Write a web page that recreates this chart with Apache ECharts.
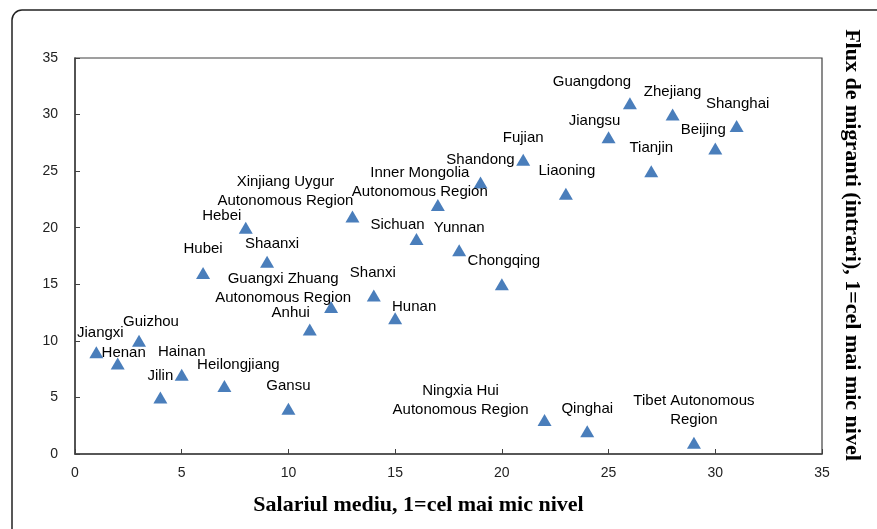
<!DOCTYPE html>
<html>
<head>
<meta charset="utf-8">
<script src="https://cdn.jsdelivr.net/npm/echarts@6/dist/echarts.min.js"></script>
<style>
	html,body{margin:0;padding:0;background:#fff;}
	#main{width:877px;height:529px;}
</style>
</head>
<body>
<div id="main"></div>
<script type="text/javascript">
	// date: provincia, salariu (rang), flux de migranti (rang)
	var provinces = ["Jiangxi","Henan","Guizhou","Jilin","Hainan","Hubei","Heilongjiang","Hebei","Shaanxi","Gansu",
		"Anhui","Guangxi Zhuang\nAutonomous Region","Xinjiang Uygur\nAutonomous Region","Shanxi","Hunan","Sichuan",
		"Inner Mongolia\nAutonomous Region","Yunnan","Shandong","Chongqing","Fujian","Ningxia Hui\nAutonomous Region",
		"Liaoning","Qinghai","Jiangsu","Guangdong","Tianjin","Zhejiang","Tibet Autonomous\nRegion","Beijing","Shanghai"];
	var salary = [1,2,3,4,5,6,7,8,9,10,11,12,13,14,15,16,17,18,19,20,21,22,23,24,25,26,27,28,29,30,31];
	var migrants = [9,8,10,5,7,16,6,20,17,4,11,13,21,14,12,19,22,18,24,15,26,3,23,2,28,31,25,30,1,27,29];
	var xTicks = [0,5,10,15,20,25,30,35];
	var yTicks = [0,5,10,15,20,25,30,35];

	// pozitia etichetelor fata de punct (px)
	var labelOffsets = [[4,-19],[6,-11],[12,-19],[0,-22],[0,-23],[0,-24],[14,-21],[-24,-12],[5,-18],[0,-23],
		[-19,-17],[-48,-19],[-67,-25],[-1,-23],[19,-11],[-19,-14],[-18,-23],[0,-22],[0,-23],[2,-23],[0,-22],[-84,-20],
		[1,-23],[0,-23],[-14,-16],[-38,-21],[0,-23],[0,-23],[0,-32],[-12,-19],[1,-22]];

	var points = [];
	provinces.forEach(function(el,index){
		points.push({
			name:el,
			value:[salary[index],migrants[index]],
			label:{offset:labelOffsets[index]}
		});
	});

	var myChart = echarts.init(document.getElementById("main"));

	var option = {
		animation:false,
		backgroundColor:'#fff',
		grid:{left:75,right:55,top:58,bottom:75,show:true,borderColor:'#404040',borderWidth:1.2,backgroundColor:'transparent'},
		xAxis:{
			type:'value',min:xTicks[0],max:xTicks[xTicks.length-1],interval:5,
			axisLine:{show:true,onZero:false,lineStyle:{color:'#404040',width:1.5}},
			axisTick:{show:true,inside:true,length:5,lineStyle:{color:'#404040'}},
			axisLabel:{color:'#222',fontSize:14,fontFamily:'Liberation Sans',margin:12},
			splitLine:{show:false},
			name:'Salariul mediu, 1=cel mai mic nivel',
			nameLocation:'middle',nameGap:40,
			nameTextStyle:{fontFamily:'Liberation Serif',fontWeight:'bold',fontSize:22,color:'#000',padding:[0,60,0,0]}
		},
		yAxis:{
			type:'value',min:yTicks[0],max:yTicks[yTicks.length-1],interval:5,
			axisLine:{show:true,onZero:false,lineStyle:{color:'#404040',width:1.5}},
			axisTick:{show:true,inside:true,length:5,lineStyle:{color:'#404040'}},
			axisLabel:{color:'#222',fontSize:14,fontFamily:'Liberation Sans',margin:17},
			splitLine:{show:false}
		},
		graphic:[
			{type:'rect',shape:{x:12,y:10,width:900,height:560,r:10},style:{fill:'none',stroke:'#222',lineWidth:1.5},silent:true},
			{type:'text',x:852,y:245,rotation:-Math.PI/2,
				style:{text:'Flux de migranti (intrari), 1=cel mai mic nivel',font:'bold 22px "Liberation Serif"',fill:'#000',align:'center',verticalAlign:'middle'}}
		],
		series:[{
			type:'scatter',
			symbol:'triangle',
			symbolSize:[14,12],
			itemStyle:{color:'#4a7ebb',opacity:1},
			data:points,
			label:{
				show:true,position:[7,6],
				formatter:'{b}',
				color:'#000',fontSize:15,fontFamily:'Liberation Sans',
				align:'center',verticalAlign:'middle',lineHeight:19
			}
		}]
	};

	myChart.setOption(option);
</script>
</body>
</html>
